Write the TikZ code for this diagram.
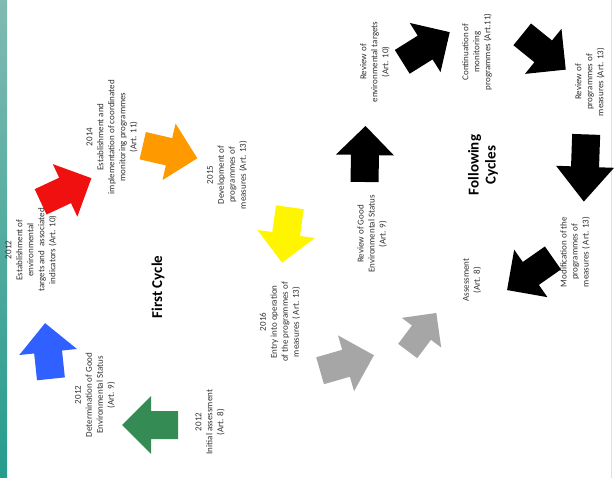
\documentclass[tikz,border=0pt]{standalone}
\usepackage{fontspec}
\setmainfont{Carlito}
\definecolor{cgreen}{RGB}{52,140,84}
\definecolor{cblue}{RGB}{48,96,255}
\definecolor{cred}{RGB}{240,16,16}
\definecolor{corange}{RGB}{255,153,0}
\definecolor{cyellow}{RGB}{255,245,0}
\definecolor{cgrey}{RGB}{166,166,166}
\definecolor{ctext}{RGB}{50,50,50}
\definecolor{tealtop}{RGB}{128,186,178}
\definecolor{tealbot}{RGB}{38,156,140}
\tikzset{
  lbl/.style={rotate=90, align=center, text=ctext, inner sep=0pt,
    font=\fontsize{9}{11}\selectfont},
  title/.style={rotate=90, align=center, text=black, inner sep=0pt,
    font=\fontsize{15}{17}\selectfont\bfseries},
  barrow/.pic={
    \fill[#1] (-28,-14) -- (-1,-14) -- (-1,-29) -- (28,0) -- (-1,29)
      -- (-1,14) -- (-28,14) -- cycle;
  }
}
\begin{document}
\begin{tikzpicture}[x=1pt,y=-1pt]
\useasboundingbox (0,0) rectangle (616,478);
\fill[white] (0,0) rectangle (616,478);
% teal side band
\shade[top color=tealtop, bottom color=tealbot] (0,0) rectangle (7,478);
\draw[gray!25, line width=0.6pt] (611,0) -- (611,478);

% ---- first cycle ----
\node[title] (first) at (158,287) {First Cycle};
\node[lbl] (tInit) at (210,422) {2012\\Initial assessment\\(Art. 8)};
\node[lbl] (tGes) at (95,395) {2012\\Determination of Good\\Environmental Status\\(Art. 9)};
\node[lbl] (tTarg) at (31,250) {2012\\Establishment of\\environmental\\targets and~~associated\\indicators (Art. 10)};
\node[lbl] (tMon) at (112,137) {2014\\Establishment and\\implementation of coordinated\\monitoring programmes\\(Art. 11)};
\node[lbl] (tDev) at (227,175) {2015\\Development of\\programmes of\\measures (Art. 13)};
\node[lbl] (tEntry) at (280,322) {2016\\Entry into operation\\of the programmes of\\measures ( Art. 13)};

\pic[rotate=180] at (150,425) {barrow=cgreen};
\pic[rotate=96] at (48,351) {barrow=cblue};
\pic[rotate=25] at (66,190) {barrow=cred};
\pic[rotate=-13] at (170,152) {barrow=corange};
\pic[rotate=-98] at (286,235) {barrow=cyellow};
\pic[rotate=16] at (347,363) {barrow=cgrey};
\pic[rotate=53,scale=0.85] at (422,332) {barrow=cgrey};

% ---- following cycles ----
\node[title] (follow) at (483,165) {Following\\Cycles};
\node[lbl] (tRGes) at (372,234) {Review of Good\\Environmental Status\\(Art. 9)};
\node[lbl] (tRTarg) at (375,62) {Review of\\environmental targets\\(Art. 10)};
\node[lbl] (tCont) at (477,52) {Continuation of\\monitoring\\programmes (Art.11)};
\node[lbl] (tRProg) at (590,82) {Review of\\programmes of\\measures (Art. 13)};
\node[lbl] (tMod) at (575,252) {Modification of the\\programmes of\\measures ( Art. 13)};
\node[lbl] (tAss) at (472,280) {Assessment\\(Art. 8)};

\pic[rotate=89] at (365,154) {barrow=black};
\pic[rotate=32] at (426,47) {barrow=black};
\pic[rotate=-39] at (544,52) {barrow=black};
\pic[rotate=-92,xscale=1.2] at (585,168) {barrow=black};
\pic[rotate=215] at (530,274) {barrow=black};
\end{tikzpicture}
\end{document}
